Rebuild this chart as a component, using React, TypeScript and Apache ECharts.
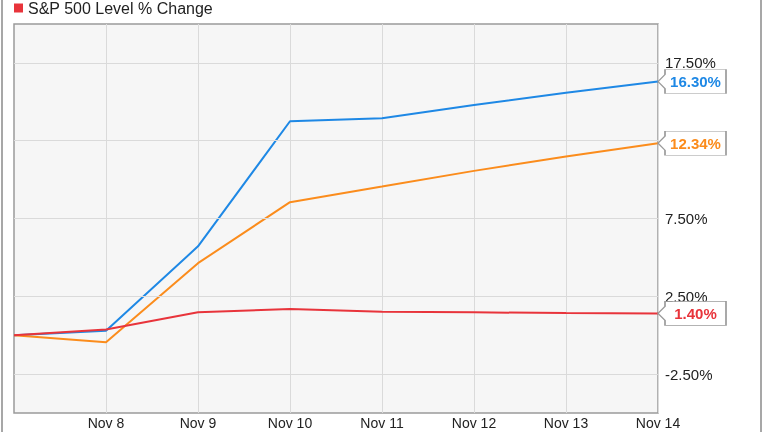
import React, { useEffect, useRef } from "react";
import * as echarts from "echarts";

const categories = ["Nov 7", "Nov 8", "Nov 9", "Nov 10", "Nov 11", "Nov 12", "Nov 13", "Nov 14"];
const blueValues = [0, 0.28, 5.71, 13.75, 13.94, 14.8, 15.58, 16.3];
const orangeValues = [0, -0.45, 4.63, 8.55, 9.55, 10.56, 11.49, 12.34];
const redValues = [0, 0.37, 1.47, 1.68, 1.51, 1.47, 1.42, 1.4];
const gridTicks = [-2.5, 2.5, 7.5, 12.5, 17.5];
const labelTicks = [-2.5, 2.5, 7.5, 17.5];
const legendName = "S&P 500 Level % Change";

const BLUE = "#1e88e5";
const ORANGE = "#fb8c1c";
const RED = "#e8343b";
const FONT = "'Liberation Sans', Arial, sans-serif";

const boxPath = "path://M0,12 L7,5 L7,0 L68,0 L68,24 L7,24 L7,19 Z";

function endMark(values: number[], color: string) {
  const last = values.length - 1;
  return {
    silent: true,
    animation: false,
    symbol: boxPath,
    symbolSize: [68, 24],
    symbolOffset: [34, 0],
    symbolKeepAspect: false,
    itemStyle: { color: "#ffffff", borderColor: "#9a9a9a", borderWidth: 1 },
    label: {
      show: true,
      position: "inside",
      offset: [3.5, 0],
      color,
      fontFamily: FONT,
      fontSize: 15,
      fontWeight: "bold",
      formatter: () => values[last].toFixed(2) + "%",
    },
    data: [{ coord: [categories[last], values[last]] }],
  };
}

export default function App() {
  const ref = useRef<HTMLDivElement>(null);
  useEffect(() => {
    if (!ref.current) return;
    const chart = echarts.init(ref.current, undefined, { renderer: "svg" });
    chart.setOption({
      animation: false,
      textStyle: { fontFamily: FONT },
      legend: {
        show: true,
        left: 9,
        top: -5,
        itemWidth: 9,
        itemHeight: 9,
        itemGap: 10,
        icon: "rect",
        data: [legendName],
        textStyle: { fontFamily: FONT, fontSize: 16, color: "#222" },
      },
      grid: {
        left: 14,
        top: 24,
        right: 106,
        bottom: 19,
        outerBoundsMode: "none",
        containLabel: false,
        show: true,
        backgroundColor: "#f6f6f6",
        borderColor: "#9a9a9a",
        borderWidth: 1.5,
      },
      graphic: [
        { type: "line", shape: { x1: 2, y1: 0, x2: 2, y2: 432 }, style: { stroke: "#8a8a8a", lineWidth: 1.5 } },
        { type: "line", shape: { x1: 761, y1: 0, x2: 761, y2: 432 }, style: { stroke: "#8a8a8a", lineWidth: 1.5 } },
      ],
      xAxis: {
        type: "category",
        data: categories,
        boundaryGap: false,
        axisLine: { show: false },
        axisTick: { show: false },
        axisLabel: {
          interval: (i: number) => i > 0,
          margin: 2,
          fontSize: 14,
          lineHeight: 16,
          color: "#222",
          fontFamily: FONT,
        },
        splitLine: { show: true, lineStyle: { color: "#dadada", width: 1 } },
      },
      yAxis: {
        type: "value",
        position: "right",
        min: -5,
        max: 20,
        interval: 2.5,
        axisLine: { show: false },
        axisTick: { show: false },
        splitLine: { show: false },
        axisLabel: {
          margin: 7,
          fontSize: 15,
          color: "#222",
          fontFamily: FONT,
          formatter: (v: number) => (labelTicks.some((t) => Math.abs(t - v) < 1e-6) ? v.toFixed(2) + "%" : ""),
        },
      },
      series: [
        {
          name: "gridlines",
          type: "line",
          data: [],
          z: 1,
          silent: true,
          markLine: {
            silent: true,
            symbol: ["none", "none"],
            label: { show: false },
            lineStyle: { color: "#dadada", width: 1, type: "solid" },
            data: gridTicks.map((t) => ({ yAxis: t })),
          },
        },
        {
          name: "Blue",
          type: "line",
          data: blueValues,
          z: 3,
          symbol: "none",
          lineStyle: { color: BLUE, width: 2 },
          itemStyle: { color: BLUE },
          markPoint: endMark(blueValues, BLUE),
        },
        {
          name: "Orange",
          type: "line",
          data: orangeValues,
          z: 3,
          symbol: "none",
          lineStyle: { color: ORANGE, width: 2 },
          itemStyle: { color: ORANGE },
          markPoint: endMark(orangeValues, ORANGE),
        },
        {
          name: legendName,
          type: "line",
          data: redValues,
          z: 4,
          symbol: "none",
          lineStyle: { color: RED, width: 2 },
          itemStyle: { color: RED },
          markPoint: endMark(redValues, RED),
        },
      ],
    });
    return () => chart.dispose();
  }, []);
  return <div ref={ref} style={{ width: 764, height: 432, position: "fixed", left: 0, top: 0 }} />;
}
